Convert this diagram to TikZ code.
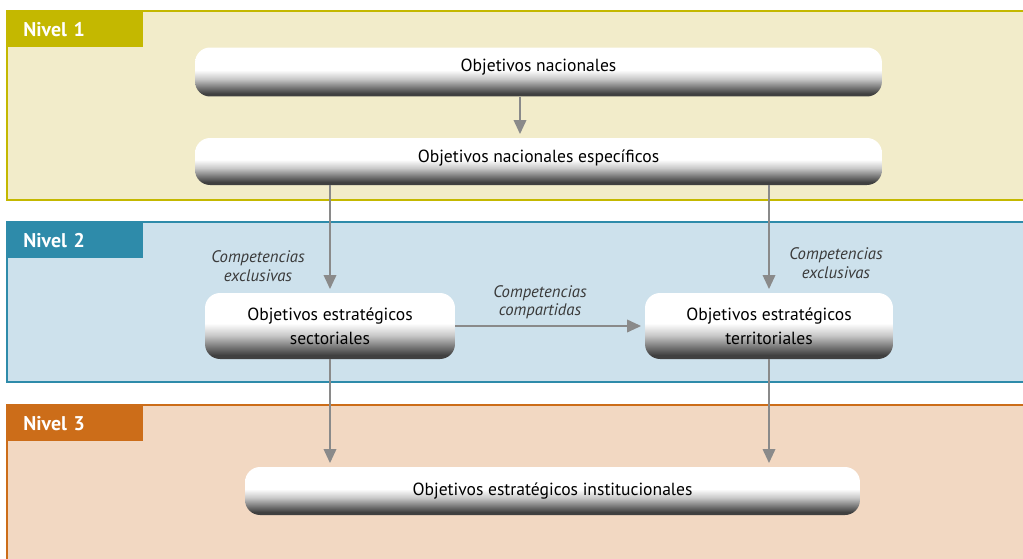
\documentclass[tikz,border=0pt]{standalone}
\usepackage{fontspec}
\setmainfont{PT Sans}
\usetikzlibrary{arrows.meta,positioning}
\definecolor{olivedge}{HTML}{C4B800}
\definecolor{olivebg}{HTML}{F2ECCA}
\definecolor{bluedge}{HTML}{2E8BAA}
\definecolor{bluebg}{HTML}{CDE1EC}
\definecolor{orangedge}{HTML}{CC6D19}
\definecolor{orangebg}{HTML}{F2D8C2}
\definecolor{arrowgray}{HTML}{8A8A8A}
\definecolor{notegray}{HTML}{3A3A3A}
\definecolor{pilldark}{HTML}{404040}
\definecolor{pillmid}{HTML}{7E7E7E}
\definecolor{pilllight}{HTML}{C8C8C8}
\pgfdeclareverticalshading{pillshade}{100bp}{color(0bp)=(pilldark); color(25bp)=(pilldark); color(28bp)=(pilldark); color(35bp)=(pillmid); color(43bp)=(pilllight); color(52bp)=(white); color(100bp)=(white)}

\begin{document}
\begin{tikzpicture}[x=0.02cm,y=-0.02cm,>={Triangle[width=7pt,length=8pt]},
  flow/.style={->,draw=arrowgray,line width=1.4pt,shorten >=2pt},
  pill/.style={rectangle,rounded corners=0.3cm,shade,shading=pillshade,
               align=center,font=\fontsize{10}{13.5}\selectfont,text=black},
  tab/.style={anchor=north west,minimum height=0.72cm,inner ysep=0pt,
              inner xsep=0.32cm,text width=2.08cm,align=left,text=white,
              font=\bfseries\fontsize{11.3}{13}\selectfont},
  note/.style={align=center,font=\itshape\fontsize{9.5}{10.5}\selectfont,text=notegray}]
  \useasboundingbox (0,0) rectangle (1023,558);

  % niveles
  \draw[olivedge,fill=olivebg,line width=1.2pt] (7,11) rectangle (1040,200);
  \draw[bluedge,fill=bluebg,line width=1.2pt] (7,222) rectangle (1040,382);
  \draw[orangedge,fill=orangebg,line width=1.2pt] (7,405) rectangle (1040,580);
  \node[tab,fill=olivedge] (n1) at (7,11) {Nivel 1};
  \node[tab,fill=bluedge] (n2) at (7,222) {Nivel 2};
  \node[tab,fill=orangedge] (n3) at (7,405) {Nivel 3};

  % objetivos
  \node[pill,minimum width=13.74cm,minimum height=0.98cm,text depth=8pt] (nac) at (538.5,72) {Objetivos nacionales};
  \node[pill,minimum width=13.74cm,minimum height=0.94cm,text depth=6.5pt] (esp) at (538.5,161.5) {Objetivos nacionales específicos};
  \node[pill,minimum width=5.0cm,minimum height=1.32cm] (sect) at (330,326) {Objetivos estratégicos\\sectoriales};
  \node[pill,minimum width=4.96cm,minimum height=1.32cm] (terr) at (769,326) {Objetivos estratégicos\\territoriales};
  \node[pill,minimum width=12.3cm,minimum height=0.96cm] (inst) at (552.5,491) {Objetivos estratégicos institucionales};
  \coordinate (mid) at (520,0);

  % flechas
  \draw[flow] (nac.south -| mid) -- (esp.north -| mid);
  \draw[flow] (esp.south -| sect.north) -- (sect.north);
  \draw[flow] (esp.south -| terr.north) -- (terr.north);
  \draw[flow] (sect.east) -- (terr.west);
  \draw[flow] (sect.south) -- (inst.north -| sect.south);
  \draw[flow] (terr.south) -- (inst.north -| terr.south);

  \node[note] (exl) at (258,266) {Competencias\\exclusivas};
  \node[note] (exr) at (836,263) {Competencias\\exclusivas};
  \node[note] (comp) at (540,302) {Competencias\\compartidas};
\end{tikzpicture}
\end{document}
